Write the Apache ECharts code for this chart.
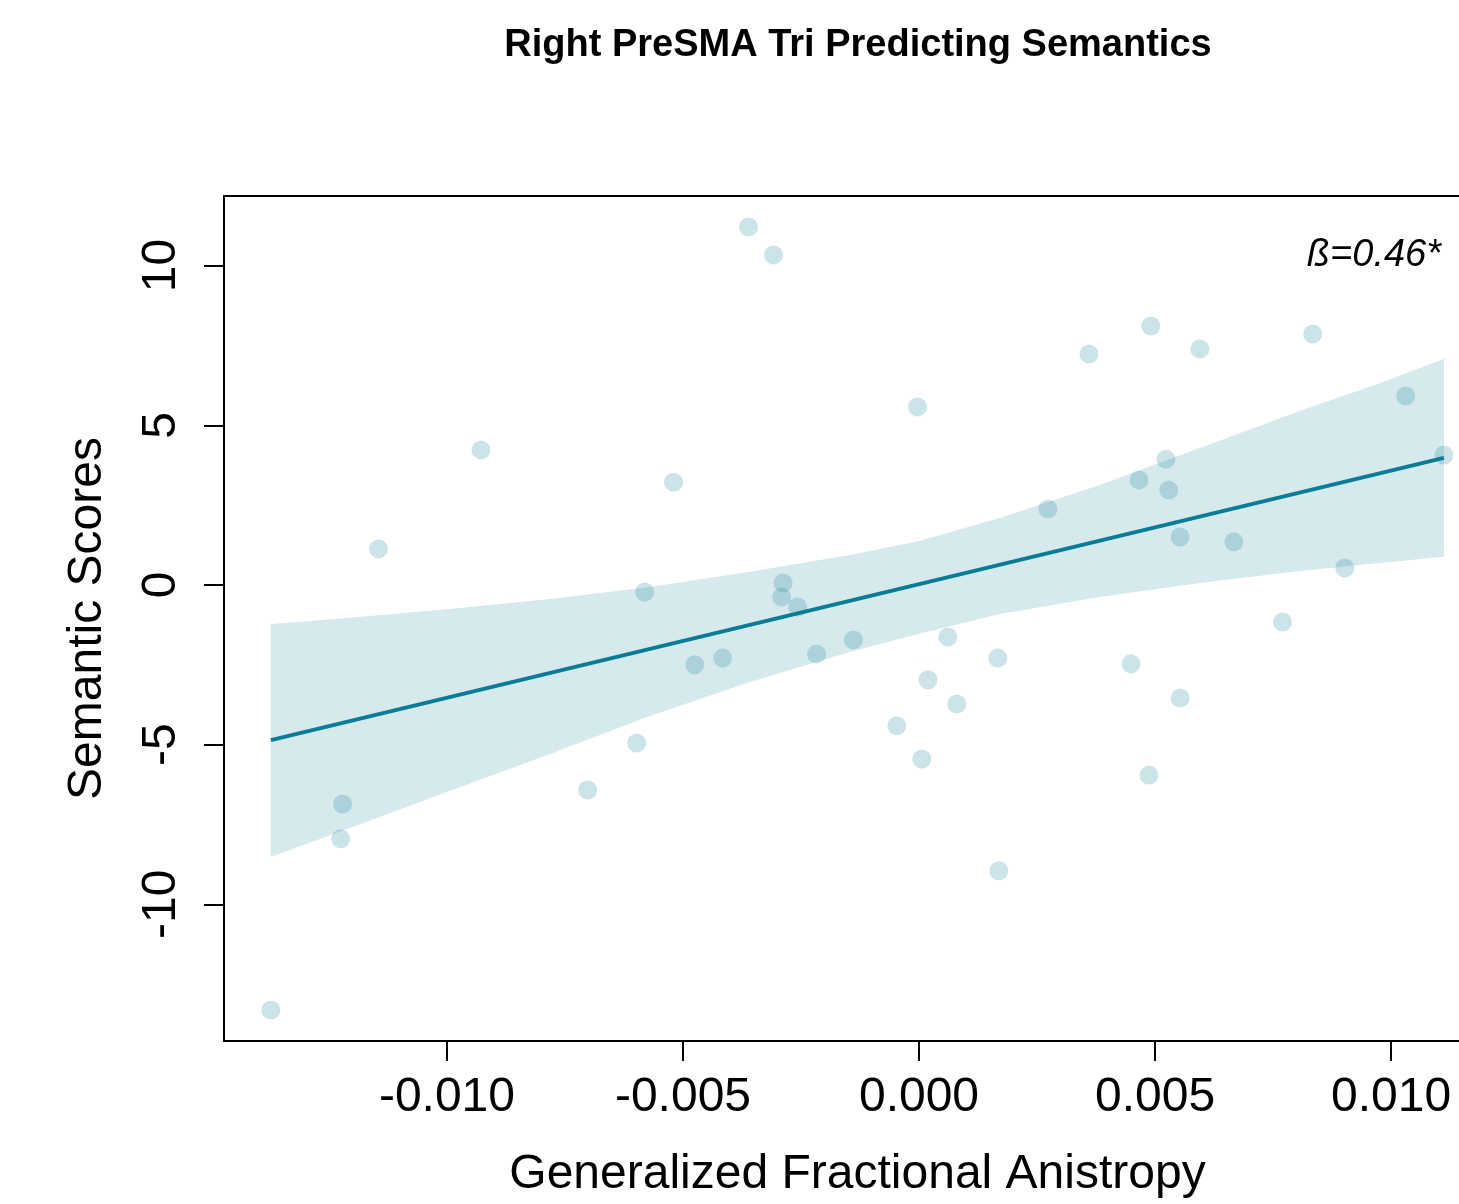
<!DOCTYPE html>
<html>
<head>
<meta charset="utf-8">
<script src="https://cdn.jsdelivr.net/npm/echarts@6.0.0/dist/echarts.min.js"></script>
<style>
html, body { margin: 0; padding: 0; background: #fff; }
#myChart { width: 1459px; height: 1204px; }
</style>
</head>
<body>
<div id="myChart"></div>
<script>
// points: generalized FA (x) vs semantic scores (y)
var faValues = [-0.01373, -0.01225, -0.01221, -0.01145, -0.00928, -0.00702, -0.00598, -0.00581,
	-0.00520, -0.00475, -0.00416, -0.00361, -0.00308, -0.00291, -0.00288, -0.00257, -0.00217,
	-0.00139, -0.00047, -0.00003, 0.00006, 0.00019, 0.00061, 0.00080, 0.00167, 0.00169,
	0.00273, 0.00360, 0.00449, 0.00466, 0.00487, 0.00491, 0.00523, 0.00529, 0.00553, 0.00553,
	0.00595, 0.00667, 0.00770, 0.00834, 0.00902, 0.01031, 0.01112];
var semanticValues = [-13.31, -7.95, -6.86, 1.13, 4.23, -6.42, -4.95, -0.22,
	3.22, -2.50, -2.29, 11.21, 10.33, -0.38, 0.06, -0.69, -2.16,
	-1.72, -4.41, 5.57, -5.45, -2.97, -1.63, -3.73, -2.29, -8.95,
	2.38, 7.23, -2.47, 3.29, -5.95, 8.11, 3.94, 2.97, 1.50, -3.54,
	7.39, 1.35, -1.16, 7.86, 0.53, 5.92, 4.07];

// fitted line and its confidence band
var fitX = [-0.01373, 0.01112];
var fitY = [-4.86, 3.98];
var bandX = [-0.01373, -0.01206, -0.00994, -0.00782, -0.00570, -0.00358, -0.00147, 0.0,
	0.00171, 0.00383, 0.00595, 0.00806, 0.00976, 0.01112];
var bandUpper = [-1.22, -1.03, -0.75, -0.44, -0.06, 0.41, 0.94, 1.38,
	2.10, 3.13, 4.29, 5.45, 6.32, 7.08];
var bandLower = [-8.52, -7.61, -6.45, -5.29, -4.10, -3.04, -2.10, -1.53,
	-0.91, -0.38, 0.06, 0.44, 0.69, 0.88];

var xTicks = [-0.010, -0.005, 0.000, 0.005, 0.010];
var yTicks = [-10, -5, 0, 5, 10];

var fontFam = '"Liberation Sans", Arial, Helvetica, sans-serif';
var teal = '#0a7d96';

var points = [];
for (var i = 0; i < faValues.length; i++) {
	points.push([faValues[i], semanticValues[i]]);
}
var fitData = [];
for (var j = 0; j < fitX.length; j++) {
	fitData.push([fitX[j], fitY[j]]);
}
var bandData = [];
for (var k = 0; k < bandX.length; k++) {
	bandData.push([bandX[k], bandLower[k], bandUpper[k]]);
}

var myChart = echarts.init(document.getElementById('myChart'));

var option = {
	backgroundColor: '#fff',
	animation: false,
	title: {
		text: 'Right PreSMA Tri Predicting Semantics',
		left: 853,
		top: 22,
		textAlign: 'center',
		textStyle: { fontFamily: fontFam, fontSize: 38, fontWeight: 'bold', color: '#000' }
	},
	// plot box runs past the right edge of the page, like the original
	grid: {
		left: 224,
		top: 196,
		width: 1267,
		height: 845,
		show: true,
		borderColor: '#000',
		borderWidth: 2,
		containLabel: false,
		outerBoundsMode: 'none'
	},
	xAxis: {
		type: 'value',
		min: -0.014723,
		max: 0.012117,
		name: 'Generalized Fractional Anistropy',
		nameLocation: 'middle',
		nameGap: 110,
		nameTextStyle: { fontFamily: fontFam, fontSize: 48, color: '#000' },
		axisLine: { show: false, onZero: false },
		splitLine: { show: false },
		axisTick: {
			show: true,
			length: 20,
			inside: false,
			customValues: xTicks,
			lineStyle: { color: '#000', width: 2 }
		},
		axisLabel: {
			customValues: xTicks,
			margin: 33,
			fontFamily: fontFam,
			fontSize: 48,
			color: '#000',
			formatter: function (v) { return v.toFixed(3); }
		}
	},
	yAxis: {
		type: 'value',
		min: -14.28,
		max: 12.18,
		name: 'Semantic Scores',
		nameLocation: 'middle',
		nameGap: 112,
		nameTextStyle: { fontFamily: fontFam, fontSize: 48, color: '#000' },
		axisLine: { show: false, onZero: false },
		splitLine: { show: false },
		axisTick: {
			show: true,
			length: 20,
			inside: false,
			customValues: yTicks,
			lineStyle: { color: '#000', width: 2 }
		},
		axisLabel: {
			customValues: yTicks,
			rotate: 90,
			margin: 38,
			fontFamily: fontFam,
			fontSize: 48,
			color: '#000'
		}
	},
	graphic: [{
		type: 'text',
		x: 1441,
		y: 255,
		style: {
			text: 'ß=0.46*',
			align: 'right',
			verticalAlign: 'middle',
			font: 'italic 38px ' + fontFam,
			fill: '#000'
		}
	}],
	series: [
		{
			// confidence band
			type: 'custom',
			data: bandData,
			z: 1,
			renderItem: function (params, api) {
				if (params.dataIndex !== 0) return;
				var pts = [];
				for (var a = 0; a < bandData.length; a++) {
					pts.push(api.coord([bandData[a][0], bandData[a][2]]));
				}
				for (var b = bandData.length - 1; b >= 0; b--) {
					pts.push(api.coord([bandData[b][0], bandData[b][1]]));
				}
				return {
					type: 'polygon',
					shape: { points: pts },
					style: { fill: 'rgba(11,125,150,0.17)' }
				};
			}
		},
		{
			type: 'scatter',
			data: points,
			symbol: 'circle',
			symbolSize: 19,
			z: 2,
			itemStyle: { color: 'rgba(11,125,150,0.26)' }
		},
		{
			type: 'line',
			data: fitData,
			symbol: 'none',
			z: 3,
			lineStyle: { color: teal, width: 4 }
		}
	]
};

myChart.setOption(option);
</script>
</body>
</html>
